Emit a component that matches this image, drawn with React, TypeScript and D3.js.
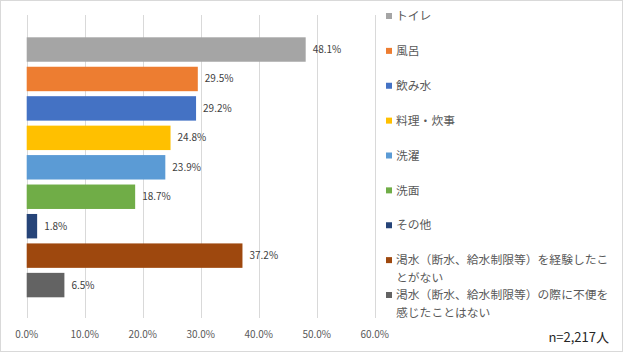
import { useEffect, useRef } from "react";
import * as d3 from "d3";

const categories = [
  "トイレ",
  "風呂",
  "飲み水",
  "料理・炊事",
  "洗濯",
  "洗面",
  "その他",
  "渇水（断水、給水制限等）を経験したことがない",
  "渇水（断水、給水制限等）の際に不便を感じたことはない",
];
const values = [48.1, 29.5, 29.2, 24.8, 23.9, 18.7, 1.8, 37.2, 6.5];
const colors = [
  "#a5a5a5",
  "#ed7d31",
  "#4472c4",
  "#ffc000",
  "#5b9bd5",
  "#70ad47",
  "#264478",
  "#9e480e",
  "#636363",
];
// legend lines (Excel wraps the long ones)
const legendLines = [
  ["トイレ"],
  ["風呂"],
  ["飲み水"],
  ["料理・炊事"],
  ["洗濯"],
  ["洗面"],
  ["その他"],
  ["渇水（断水、給水制限等）を経験したこ", "とがない"],
  ["渇水（断水、給水制限等）の際に不便を", "感じたことはない"],
];
const xTicks = [0, 10, 20, 30, 40, 50, 60];
const note = "n=2,217人";

export default function App() {
  const svgRef = useRef<SVGSVGElement>(null);

  useEffect(() => {
    if (!svgRef.current) return;
    const svg = d3.select(svgRef.current);
    svg.selectAll("*").remove();

    const W = 624;
    const H = 354;
    const font = "'Noto Sans CJK JP', 'Noto Sans', sans-serif";

    svg
      .append("rect")
      .attr("x", 0.5)
      .attr("y", 0.5)
      .attr("width", W - 2)
      .attr("height", H - 3)
      .attr("fill", "#fff")
      .attr("stroke", "#d9d9d9");

    const xScale = d3.scaleLinear().domain([0, 60]).range([26.7, 374.7]);
    const yScale = d3
      .scaleBand()
      .domain(categories)
      .range([34.8, 299.8])
      .paddingInner(0.17)
      .paddingOuter(0.085);

    // Gridlines
    svg
      .append("g")
      .selectAll("line")
      .data(xTicks)
      .enter()
      .append("line")
      .attr("x1", (d) => Math.round(xScale(d)) + 0.5)
      .attr("x2", (d) => Math.round(xScale(d)) + 0.5)
      .attr("y1", 15)
      .attr("y2", 318)
      .attr("stroke", "#d9d9d9")
      .attr("stroke-width", 1);

    // Bars
    svg
      .append("g")
      .selectAll("rect")
      .data(values)
      .enter()
      .append("rect")
      .attr("x", xScale(0))
      .attr("y", (d, i) => yScale(categories[i]) || 0)
      .attr("width", (d) => xScale(d) - xScale(0))
      .attr("height", yScale.bandwidth())
      .attr("fill", (d, i) => colors[i]);

    // Value labels
    svg
      .append("g")
      .selectAll("text")
      .data(values)
      .enter()
      .append("text")
      .attr("x", (d) => xScale(d) + 7)
      .attr("y", (d, i) => (yScale(categories[i]) || 0) + yScale.bandwidth() / 2)
      .attr("dy", "0.35em")
      .style("font-family", font)
      .style("font-size", "10px")
      .style("fill", "#404040")
      .text((d) => `${d.toFixed(1)}%`);

    // X tick labels
    svg
      .append("g")
      .selectAll("text")
      .data(xTicks)
      .enter()
      .append("text")
      .attr("x", (d) => xScale(d))
      .attr("y", 334)
      .attr("dy", "0.35em")
      .attr("text-anchor", "middle")
      .style("font-family", font)
      .style("font-size", "10px")
      .style("fill", "#595959")
      .text((d) => `${d.toFixed(1)}%`);

    // Legend
    const legendY = d3
      .scaleLinear()
      .domain([0, categories.length - 1])
      .range([16, 295]);
    const lg = svg.append("g");
    legendLines.forEach((lines, i) => {
      const y = legendY(i);
      lg.append("rect")
        .attr("x", 386)
        .attr("y", y - 3)
        .attr("width", 6)
        .attr("height", 6)
        .attr("fill", colors[i]);
      lines.forEach((line, j) => {
        lg.append("text")
          .attr("x", 396)
          .attr("y", y + j * 17.5)
          .attr("dy", "0.35em")
          .style("font-family", font)
          .style("font-size", "11.8px")
          .style("fill", "#595959")
          .text(line);
      });
    });

    // Note
    svg
      .append("text")
      .attr("x", 609)
      .attr("y", 337)
      .attr("dy", "0.35em")
      .attr("text-anchor", "end")
      .style("font-family", font)
      .style("font-size", "13px")
      .style("fill", "#262626")
      .text(note);
  }, []);

  return (
    <div style={{ position: "fixed", left: 0, top: 0 }}>
      <svg ref={svgRef} width={624} height={354} style={{ display: "block" }} />
    </div>
  );
}
